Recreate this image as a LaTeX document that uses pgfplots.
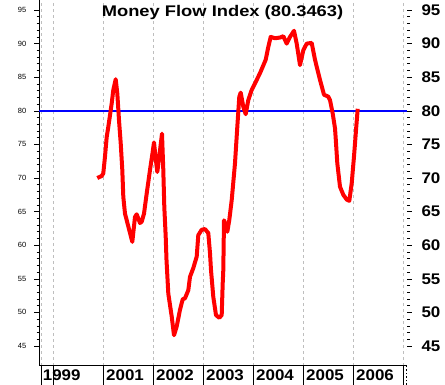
\documentclass[border=0pt]{standalone}
\usepackage{pgfplots}
\pgfplotsset{compat=1.18}
\usepackage{fontspec}
\setmainfont{Liberation Sans}
\usepackage{graphicx}
\definecolor{gridgray}{RGB}{190,190,190}
\begin{document}
\begin{tikzpicture}[x=1pt,y=1pt]
\useasboundingbox (0,0) rectangle (445,385);
% left axis with data
\begin{axis}[
  at={(39pt,19.3pt)}, anchor=south west,
  scale only axis, width=368.3pt, height=365.7pt,
  xmin=1999.714, xmax=2007.08, ymin=42.07, ymax=96.49,
  axis x line*=bottom, axis y line*=left,
  axis line style={black, line width=0.8pt, -},
  xtick={1999.754,2000,2001,2002,2003,2004,2005,2006,2007},
  xticklabels={},
  x tick style={draw=none},
  xmajorgrids,
  major grid style={gridgray, line width=0.7pt, dash pattern=on 3pt off 3pt},
  ytick={45,50,55,60,65,70,75,80,85,90,95},
  minor y tick num=4,
  tick align=outside,
  major tick length=4.7pt, minor tick length=2.3pt,
  y tick style={black, line width=0.6pt},
  yticklabel style={font=\fontsize{7.5}{8}\selectfont, xshift=-4.5pt},
  /pgf/number format/assume math mode=true,
  clip=false,
]
\addplot[blue, line width=2pt] coordinates {(1999.714,80) (2007.08,80)};
\addplot[red, line width=4pt, line join=round] coordinates {
(2000.880,70.0) (2000.968,70.3) (2001.000,70.7) (2001.034,73.2) (2001.068,76.1)
(2001.100,77.6) (2001.168,81.1) (2001.200,83.1) (2001.248,84.7) (2001.280,82.6)
(2001.314,78.6) (2001.348,75.2) (2001.380,71.2) (2001.400,67.2) (2001.434,64.7)
(2001.500,62.8) (2001.580,60.5) (2001.634,64.2) (2001.668,64.6) (2001.734,63.3)
(2001.768,63.5) (2001.814,64.7) (2001.868,67.7) (2001.934,71.2) (2001.988,73.9)
(2002.014,75.3) (2002.048,72.9) (2002.080,70.9) (2002.120,73.2) (2002.174,76.6)
(2002.200,71.2) (2002.220,65.7) (2002.248,61.3) (2002.264,57.8) (2002.300,52.8)
(2002.368,49.4) (2002.414,46.6) (2002.468,47.9) (2002.534,50.4) (2002.588,51.95)
(2002.634,52.1) (2002.700,53.3) (2002.734,55.3) (2002.800,56.6) (2002.868,58.3)
(2002.900,61.5) (2002.968,62.3) (2003.034,62.4) (2003.100,61.8) (2003.134,58.8)
(2003.154,56.3) (2003.200,52.3) (2003.254,49.6) (2003.320,49.2) (2003.368,49.6)
(2003.388,54.3) (2003.400,56.3) (2003.414,63.7) (2003.444,63.2) (2003.480,62.0)
(2003.520,63.75) (2003.568,66.7) (2003.634,72.2) (2003.680,77.6) (2003.720,82.1)
(2003.748,82.7) (2003.800,80.6) (2003.848,79.5) (2003.900,81.6) (2003.968,83.1)
(2004.068,84.6) (2004.134,85.6) (2004.248,87.6) (2004.300,89.5) (2004.348,91.0)
(2004.434,90.8) (2004.534,90.9) (2004.600,91.1) (2004.668,90.0) (2004.734,91.0)
(2004.814,91.9) (2004.868,90.0) (2004.934,86.8) (2005.000,89.0) (2005.068,90.0)
(2005.168,90.1) (2005.234,87.6) (2005.334,84.6) (2005.414,82.4) (2005.500,82.1)
(2005.534,81.6) (2005.588,79.6) (2005.634,77.4) (2005.650,75.7) (2005.680,72.2)
(2005.734,68.7) (2005.800,67.5) (2005.868,66.8) (2005.920,66.6) (2005.968,69.2)
(2006.014,73.2) (2006.054,77.1) (2006.088,80.3)
};
\end{axis}
% right axis labels
\begin{axis}[
  at={(39pt,19.3pt)}, anchor=south west,
  scale only axis, width=368.3pt, height=365.7pt,
  xmin=1999.714, xmax=2007.08, ymin=42.07, ymax=96.49,
  axis x line=none, axis y line*=right,
  y axis line style={draw=none},
  ytick={45,50,55,60,65,70,75,80,85,90,95},
  minor y tick num=4,
  tick align=outside,
  major tick length=4.7pt, minor tick length=2.7pt,
  y tick style={black, line width=0.6pt},
  yticklabel style={font=\fontsize{15.4}{16}\selectfont\bfseries, anchor=west, xshift=6pt},
  yticklabel={\scalebox{1.1}[1]{\pgfmathprintnumber[assume math mode=true]{\tick}}},
]
\addplot[draw=none] coordinates {(2000,50)};
\end{axis}
% bottom year strip
\foreach \xx in {41,53.3,103.3,153.3,203.3,253.3,303.3,353.3,403.3}
  \draw[black, line width=0.9pt] (\xx,0) -- (\xx,19.3);
\draw[black, line width=0.8pt, dash pattern=on 1.5pt off 2pt] (406.5,0) -- (406.5,19.3);
\foreach \xx/\lab in {42.7/1999,106/2001,156/2002,206/2003,256/2004,306/2005,356/2006}
  \node[anchor=west, inner sep=0pt, font=\fontsize{15.4}{16}\selectfont\bfseries] at (\xx,9.6) {\scalebox{1.1}[1]{\lab}};
% title
\node[font=\fontsize{15.4}{16}\selectfont\bfseries, inner sep=0pt] at (222.5,372) {\scalebox{1.19}[1]{Money Flow Index (80.3463)}};
\end{tikzpicture}
\end{document}
